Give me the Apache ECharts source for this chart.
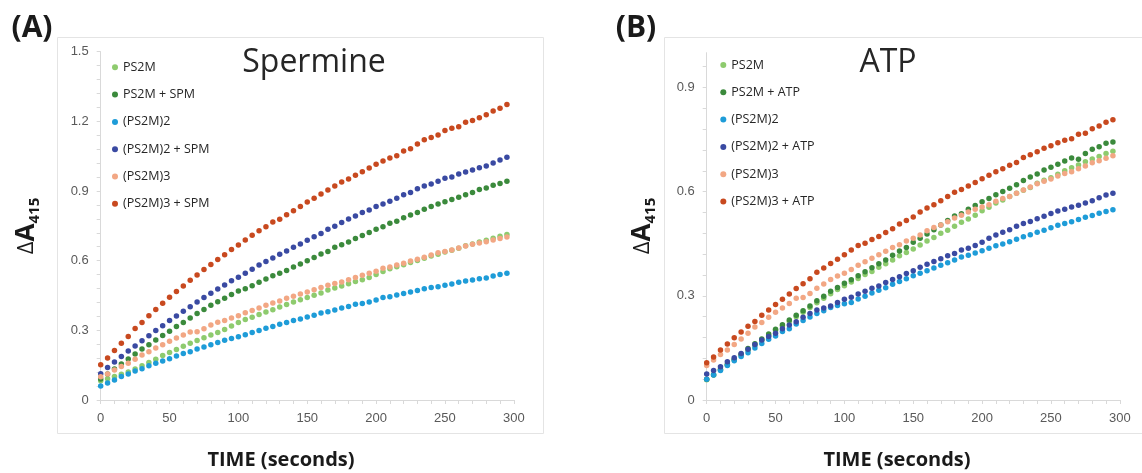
<!DOCTYPE html>
<html>
<head>
<meta charset="utf-8">
<script src="https://cdn.jsdelivr.net/npm/echarts@6/dist/echarts.min.js"></script>
<style>
  html, body { margin: 0; padding: 0; background: #ffffff; }
  #chart { width: 1142px; height: 473px; }
</style>
</head>
<body>
<div id="chart"></div>
<script>
// Sampling times (seconds)
const TIMES = [0, 5, 10, 15, 20, 25, 30, 35, 40, 45, 50, 55, 60, 65, 70, 75, 80, 85, 90, 95,
  100, 105, 110, 115, 120, 125, 130, 135, 140, 145, 150, 155, 160, 165, 170, 175, 180, 185, 190, 195,
  200, 205, 210, 215, 220, 225, 230, 235, 240, 245, 250, 255, 260, 265, 270, 275, 280, 285, 290, 295];

// Axis ticks and labels
const X_TICKS = [0, 10, 20, 30, 40, 50, 60, 70, 80, 90, 100, 110, 120, 130, 140, 150, 160, 170, 180, 190,
  200, 210, 220, 230, 240, 250, 260, 270, 280, 290, 300];
const X_LABELS = [0, 50, 100, 150, 200, 250, 300];
const Y_TICKS_A = [0, 0.06, 0.12, 0.18, 0.24, 0.3, 0.36, 0.42, 0.48, 0.54, 0.6, 0.66, 0.72, 0.78, 0.84,
  0.9, 0.96, 1.02, 1.08, 1.14, 1.2, 1.26, 1.32, 1.38, 1.44, 1.5];
const Y_LABELS_A = [0, 0.3, 0.6, 0.9, 1.2, 1.5];
const Y_TICKS_B = [0, 0.06, 0.12, 0.18, 0.24, 0.3, 0.36, 0.42, 0.48, 0.54, 0.6, 0.66, 0.72, 0.78, 0.84,
  0.9, 0.96];
const Y_LABELS_B = [0, 0.3, 0.6, 0.9];

// Series names
const NAMES_A = ['PS2M', 'PS2M + SPM', '(PS2M)2', '(PS2M)2 + SPM', '(PS2M)3', '(PS2M)3 + SPM'];
const NAMES_B = ['PS2M', 'PS2M + ATP', '(PS2M)2', '(PS2M)2 + ATP', '(PS2M)3', '(PS2M)3 + ATP'];

// (A) Spermine: ΔA415 per time point
const spmPS2M = [0.083, 0.092, 0.101, 0.111, 0.121, 0.134, 0.148, 0.162, 0.175, 0.192,
  0.205, 0.218, 0.231, 0.244, 0.256, 0.268, 0.280, 0.291, 0.304, 0.319,
  0.334, 0.347, 0.356, 0.368, 0.379, 0.389, 0.401, 0.411, 0.422, 0.432,
  0.441, 0.451, 0.461, 0.474, 0.482, 0.491, 0.501, 0.510, 0.518, 0.528,
  0.541, 0.553, 0.565, 0.574, 0.582, 0.592, 0.601, 0.610, 0.620, 0.628,
  0.637, 0.645, 0.654, 0.664, 0.672, 0.680, 0.688, 0.697, 0.705, 0.713];
const spmPS2M_SPM = [0.090, 0.112, 0.133, 0.155, 0.177, 0.198, 0.220, 0.238, 0.258, 0.278,
  0.296, 0.316, 0.334, 0.353, 0.372, 0.390, 0.408, 0.423, 0.438, 0.454,
  0.469, 0.479, 0.492, 0.507, 0.521, 0.535, 0.546, 0.558, 0.573, 0.586,
  0.600, 0.614, 0.629, 0.640, 0.658, 0.669, 0.680, 0.695, 0.708, 0.721,
  0.735, 0.746, 0.761, 0.770, 0.785, 0.797, 0.808, 0.821, 0.833, 0.844,
  0.854, 0.864, 0.873, 0.884, 0.894, 0.907, 0.913, 0.925, 0.932, 0.942];
const spmPS2M2 = [0.060, 0.073, 0.086, 0.101, 0.112, 0.125, 0.135, 0.148, 0.158, 0.168,
  0.178, 0.189, 0.200, 0.208, 0.220, 0.228, 0.238, 0.248, 0.257, 0.265,
  0.272, 0.281, 0.291, 0.299, 0.309, 0.316, 0.326, 0.334, 0.342, 0.349,
  0.357, 0.365, 0.375, 0.380, 0.388, 0.396, 0.403, 0.412, 0.416, 0.422,
  0.431, 0.441, 0.445, 0.452, 0.459, 0.465, 0.472, 0.479, 0.484, 0.488,
  0.494, 0.500, 0.507, 0.512, 0.517, 0.522, 0.525, 0.534, 0.541, 0.546];
const spmPS2M2_SPM = [0.113, 0.140, 0.164, 0.187, 0.211, 0.233, 0.255, 0.277, 0.299, 0.320,
  0.342, 0.362, 0.382, 0.402, 0.422, 0.441, 0.460, 0.478, 0.495, 0.514,
  0.529, 0.546, 0.563, 0.581, 0.596, 0.612, 0.628, 0.642, 0.658, 0.672,
  0.688, 0.703, 0.717, 0.735, 0.748, 0.764, 0.780, 0.792, 0.807, 0.818,
  0.833, 0.844, 0.856, 0.869, 0.884, 0.894, 0.910, 0.922, 0.930, 0.942,
  0.955, 0.960, 0.973, 0.982, 0.991, 1.000, 1.008, 1.021, 1.034, 1.045];
const spmPS2M3 = [0.100, 0.112, 0.129, 0.144, 0.158, 0.175, 0.194, 0.208, 0.224, 0.238,
  0.253, 0.267, 0.280, 0.293, 0.294, 0.307, 0.323, 0.335, 0.342, 0.353,
  0.363, 0.376, 0.385, 0.396, 0.408, 0.418, 0.426, 0.438, 0.447, 0.457,
  0.465, 0.475, 0.484, 0.494, 0.502, 0.508, 0.518, 0.528, 0.537, 0.546,
  0.554, 0.567, 0.573, 0.581, 0.589, 0.599, 0.606, 0.615, 0.624, 0.634,
  0.640, 0.646, 0.655, 0.663, 0.671, 0.676, 0.682, 0.689, 0.696, 0.702];
const spmPS2M3_SPM = [0.152, 0.181, 0.213, 0.244, 0.274, 0.308, 0.334, 0.363, 0.390, 0.417,
  0.442, 0.467, 0.491, 0.516, 0.538, 0.562, 0.584, 0.605, 0.626, 0.648,
  0.667, 0.689, 0.709, 0.729, 0.746, 0.767, 0.778, 0.798, 0.815, 0.833,
  0.853, 0.869, 0.887, 0.904, 0.922, 0.939, 0.952, 0.968, 0.983, 0.999,
  1.015, 1.029, 1.042, 1.052, 1.072, 1.082, 1.102, 1.121, 1.130, 1.141,
  1.161, 1.170, 1.177, 1.196, 1.204, 1.216, 1.229, 1.245, 1.256, 1.273];

// (B) ATP: ΔA415 per time point
const atpPS2M = [0.058, 0.072, 0.087, 0.101, 0.115, 0.129, 0.143, 0.157, 0.172, 0.186,
  0.200, 0.213, 0.226, 0.240, 0.253, 0.266, 0.280, 0.293, 0.306, 0.318,
  0.329, 0.340, 0.350, 0.361, 0.370, 0.382, 0.392, 0.403, 0.415, 0.425,
  0.435, 0.446, 0.458, 0.468, 0.480, 0.489, 0.500, 0.512, 0.521, 0.532,
  0.545, 0.555, 0.567, 0.576, 0.586, 0.595, 0.604, 0.612, 0.624, 0.633,
  0.640, 0.650, 0.660, 0.669, 0.677, 0.686, 0.694, 0.701, 0.710, 0.716];
const atpPS2M_ATP = [0.060, 0.073, 0.088, 0.102, 0.117, 0.132, 0.148, 0.162, 0.176, 0.190,
  0.204, 0.217, 0.230, 0.244, 0.257, 0.271, 0.286, 0.299, 0.313, 0.324,
  0.336, 0.346, 0.358, 0.369, 0.381, 0.392, 0.403, 0.417, 0.429, 0.439,
  0.454, 0.466, 0.478, 0.490, 0.504, 0.517, 0.530, 0.536, 0.549, 0.560,
  0.571, 0.580, 0.591, 0.600, 0.610, 0.620, 0.632, 0.642, 0.651, 0.662,
  0.670, 0.679, 0.688, 0.697, 0.693, 0.710, 0.722, 0.729, 0.739, 0.743];
const atpPS2M2 = [0.060, 0.072, 0.085, 0.099, 0.113, 0.125, 0.136, 0.150, 0.163, 0.175,
  0.184, 0.197, 0.205, 0.219, 0.229, 0.239, 0.249, 0.257, 0.266, 0.272,
  0.277, 0.281, 0.291, 0.299, 0.308, 0.316, 0.323, 0.333, 0.341, 0.349,
  0.358, 0.365, 0.372, 0.380, 0.388, 0.395, 0.403, 0.412, 0.417, 0.423,
  0.430, 0.437, 0.444, 0.449, 0.456, 0.463, 0.470, 0.476, 0.483, 0.489,
  0.496, 0.503, 0.508, 0.513, 0.520, 0.526, 0.531, 0.538, 0.543, 0.548];
const atpPS2M2_ATP = [0.075, 0.085, 0.096, 0.110, 0.122, 0.134, 0.146, 0.160, 0.173, 0.183,
  0.192, 0.205, 0.216, 0.225, 0.238, 0.249, 0.259, 0.265, 0.271, 0.281,
  0.290, 0.296, 0.305, 0.313, 0.322, 0.328, 0.338, 0.347, 0.355, 0.364,
  0.372, 0.382, 0.391, 0.399, 0.407, 0.415, 0.422, 0.432, 0.437, 0.445,
  0.454, 0.466, 0.475, 0.483, 0.490, 0.500, 0.508, 0.514, 0.522, 0.529,
  0.537, 0.544, 0.549, 0.556, 0.561, 0.567, 0.574, 0.582, 0.590, 0.595];
const atpPS2M3 = [0.099, 0.115, 0.131, 0.144, 0.160, 0.176, 0.192, 0.210, 0.223, 0.238,
  0.253, 0.265, 0.278, 0.293, 0.295, 0.307, 0.322, 0.334, 0.347, 0.357,
  0.365, 0.376, 0.388, 0.398, 0.408, 0.418, 0.428, 0.439, 0.447, 0.458,
  0.466, 0.475, 0.487, 0.497, 0.504, 0.513, 0.524, 0.532, 0.541, 0.549,
  0.556, 0.562, 0.572, 0.580, 0.586, 0.595, 0.605, 0.613, 0.623, 0.630,
  0.636, 0.645, 0.652, 0.657, 0.666, 0.674, 0.683, 0.689, 0.696, 0.703];
const atpPS2M3_ATP = [0.107, 0.124, 0.144, 0.161, 0.179, 0.196, 0.212, 0.226, 0.244, 0.259,
  0.275, 0.290, 0.305, 0.321, 0.335, 0.349, 0.368, 0.380, 0.393, 0.405,
  0.418, 0.432, 0.445, 0.451, 0.462, 0.471, 0.482, 0.493, 0.507, 0.517,
  0.527, 0.541, 0.553, 0.562, 0.574, 0.586, 0.598, 0.606, 0.616, 0.626,
  0.637, 0.647, 0.657, 0.666, 0.676, 0.684, 0.698, 0.706, 0.715, 0.725,
  0.732, 0.741, 0.748, 0.752, 0.765, 0.768, 0.781, 0.789, 0.800, 0.807];

const COLORS = ['#8ecb6e', '#3b8a3c', '#1e9cd8', '#3a4aa2', '#f2a784', '#c8491f'];

const SERIES_A = [spmPS2M, spmPS2M_SPM, spmPS2M2, spmPS2M2_SPM, spmPS2M3, spmPS2M3_SPM];
const SERIES_B = [atpPS2M, atpPS2M_ATP, atpPS2M2, atpPS2M2_ATP, atpPS2M3, atpPS2M3_ATP];

const TICK_FONT = 'Liberation Sans, Arial, sans-serif';
const TEXT_FONT = '"Open Sans", "Noto Sans", sans-serif';
const AXIS_GRAY = '#d9d9d9';

function pairs(values) {
  return TIMES.map((t, i) => [t, values[i]]);
}

function isMultiple(v, step) {
  const r = v / step;
  return Math.abs(r - Math.round(r)) < 1e-6;
}

function xAxisFor(gridIndex) {
  return {
    type: 'value', gridIndex, min: 0, max: 300, interval: 10,
    axisLine: { show: true, lineStyle: { color: AXIS_GRAY, width: 1 } },
    axisTick: { show: true, length: 4, customValues: X_TICKS, lineStyle: { color: AXIS_GRAY } },
    axisLabel: {
      customValues: X_LABELS, margin: 12, color: '#595959', fontSize: 13, fontFamily: TICK_FONT,
      formatter: v => (isMultiple(v, 50) ? String(Math.round(v)) : '')
    },
    splitLine: { show: false }
  };
}

function yAxisFor(gridIndex, max, ticks, labels) {
  return {
    type: 'value', gridIndex, min: 0, max, interval: 0.06,
    axisLine: { show: true, lineStyle: { color: AXIS_GRAY, width: 1 } },
    axisTick: { show: true, length: 4, customValues: ticks, lineStyle: { color: AXIS_GRAY } },
    axisLabel: {
      customValues: labels, margin: 12, color: '#595959', fontSize: 13, fontFamily: TICK_FONT,
      formatter: v => (isMultiple(v, 0.3) ? (Math.abs(v) < 1e-9 ? '0' : (Math.round(v * 10) / 10).toFixed(1)) : '')
    },
    splitLine: { show: false }
  };
}

function legendFor(names, left, top) {
  return {
    data: names, left, top, padding: 0, orient: 'vertical', icon: 'circle',
    itemWidth: 6, itemHeight: 6, itemGap: 13.3, selectedMode: false,
    textStyle: { fontSize: 12.5, lineHeight: 14, color: '#262626', fontFamily: TEXT_FONT }
  };
}

const series = [];
SERIES_A.forEach((vals, i) => series.push({
  type: 'scatter', name: NAMES_A[i], xAxisIndex: 0, yAxisIndex: 0,
  symbol: 'circle', symbolSize: 5.5, data: pairs(vals),
  itemStyle: { color: COLORS[i], opacity: 1 }
}));
SERIES_B.forEach((vals, i) => series.push({
  type: 'scatter', name: NAMES_B[i], xAxisIndex: 1, yAxisIndex: 1,
  symbol: 'circle', symbolSize: 5.5, data: pairs(vals),
  itemStyle: { color: COLORS[i], opacity: 1 }
}));

function axisTitle(x, y) {
  return {
    type: 'text', x, y, rotation: Math.PI / 2, z: 10,
    style: {
      text: '{d|Δ}{a|A}{s|415}',
      align: 'center', verticalAlign: 'middle', fill: '#1a1a1a',
      rich: {
        d: { fontSize: 22, fontFamily: TEXT_FONT, fontWeight: 'normal', lineHeight: 30, verticalAlign: 'middle', fill: '#1a1a1a' },
        a: { fontSize: 26, fontFamily: TEXT_FONT, fontWeight: 'bold', lineHeight: 30, verticalAlign: 'middle', fill: '#1a1a1a' },
        s: { fontSize: 15, fontFamily: TEXT_FONT, fontWeight: 'bold', lineHeight: 15, verticalAlign: 'bottom', fill: '#1a1a1a' }
      }
    }
  };
}

function plainText(text, x, y, size, weight, color) {
  return {
    type: 'text', x, y, z: 10,
    style: { text, align: 'center', verticalAlign: 'middle', fontSize: size, fontWeight: weight, fontFamily: TEXT_FONT, fill: color }
  };
}

const chart = echarts.init(document.getElementById('chart'), null, { renderer: 'canvas' });
chart.setOption({
  animation: false,
  backgroundColor: '#ffffff',
  grid: [
    { left: 100.7, top: 51.7, width: 413.1, height: 348.3 },
    { left: 706.7, top: 52.7, width: 413.1, height: 347.3 }
  ],
  xAxis: [xAxisFor(0), xAxisFor(1)],
  yAxis: [yAxisFor(0, 1.5, Y_TICKS_A, Y_LABELS_A), yAxisFor(1, 1.0, Y_TICKS_B, Y_LABELS_B)],
  legend: [legendFor(NAMES_A, 112, 60.3), legendFor(NAMES_B, 720.3, 58)],
  series,
  graphic: [
    { type: 'rect', z: -1, shape: { x: 57.5, y: 37.5, width: 486, height: 396 }, style: { fill: 'none', stroke: '#e4e4e4', lineWidth: 1 } },
    { type: 'rect', z: -1, shape: { x: 664.5, y: 37.5, width: 500, height: 396 }, style: { fill: 'none', stroke: '#e4e4e4', lineWidth: 1 } },
    plainText('(A)', 32, 28, 30, 'bold', '#1a1a1a'),
    plainText('(B)', 636, 28, 30, 'bold', '#1a1a1a'),
    plainText('Spermine', 314, 63, 32, 'normal', '#262626'),
    plainText('ATP', 888, 63, 32, 'normal', '#262626'),
    plainText('TIME (seconds)', 281, 460, 20, 'bold', '#1a1a1a'),
    plainText('TIME (seconds)', 897, 460, 20, 'bold', '#1a1a1a'),
    axisTitle(27, 226),
    axisTitle(643, 226)
  ]
});
</script>
</body>
</html>
